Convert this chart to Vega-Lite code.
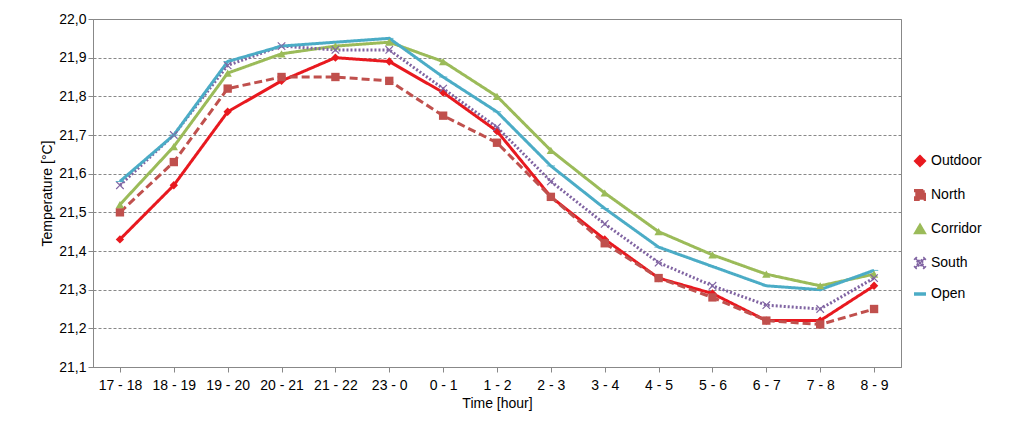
{
"$schema":"https://vega.github.io/schema/vega-lite/v6.json",
"width":808,"height":348,
"padding":{"left":40,"top":12,"right":5,"bottom":5},
"config":{"font":"Liberation Sans","view":{"stroke":"#888"},"axis":{"labelFontSize":14,"titleFontSize":14,"labelColor":"#000","titleColor":"#000","titleFontWeight":"normal"}},
"data":{"values":[
{"t":"17 - 18","s":"Outdoor","v":21.43},{"t":"18 - 19","s":"Outdoor","v":21.57},{"t":"19 - 20","s":"Outdoor","v":21.76},{"t":"20 - 21","s":"Outdoor","v":21.84},{"t":"21 - 22","s":"Outdoor","v":21.90},{"t":"23 - 0","s":"Outdoor","v":21.89},{"t":"0 - 1","s":"Outdoor","v":21.81},{"t":"1 - 2","s":"Outdoor","v":21.71},{"t":"2 - 3","s":"Outdoor","v":21.54},{"t":"3 - 4","s":"Outdoor","v":21.43},{"t":"4 - 5","s":"Outdoor","v":21.33},{"t":"5 - 6","s":"Outdoor","v":21.29},{"t":"6 - 7","s":"Outdoor","v":21.22},{"t":"7 - 8","s":"Outdoor","v":21.22},{"t":"8 - 9","s":"Outdoor","v":21.31},
{"t":"17 - 18","s":"North","v":21.50},{"t":"18 - 19","s":"North","v":21.63},{"t":"19 - 20","s":"North","v":21.82},{"t":"20 - 21","s":"North","v":21.85},{"t":"21 - 22","s":"North","v":21.85},{"t":"23 - 0","s":"North","v":21.84},{"t":"0 - 1","s":"North","v":21.75},{"t":"1 - 2","s":"North","v":21.68},{"t":"2 - 3","s":"North","v":21.54},{"t":"3 - 4","s":"North","v":21.42},{"t":"4 - 5","s":"North","v":21.33},{"t":"5 - 6","s":"North","v":21.28},{"t":"6 - 7","s":"North","v":21.22},{"t":"7 - 8","s":"North","v":21.21},{"t":"8 - 9","s":"North","v":21.25},
{"t":"17 - 18","s":"Corridor","v":21.52},{"t":"18 - 19","s":"Corridor","v":21.67},{"t":"19 - 20","s":"Corridor","v":21.86},{"t":"20 - 21","s":"Corridor","v":21.91},{"t":"21 - 22","s":"Corridor","v":21.93},{"t":"23 - 0","s":"Corridor","v":21.94},{"t":"0 - 1","s":"Corridor","v":21.89},{"t":"1 - 2","s":"Corridor","v":21.80},{"t":"2 - 3","s":"Corridor","v":21.66},{"t":"3 - 4","s":"Corridor","v":21.55},{"t":"4 - 5","s":"Corridor","v":21.45},{"t":"5 - 6","s":"Corridor","v":21.39},{"t":"6 - 7","s":"Corridor","v":21.34},{"t":"7 - 8","s":"Corridor","v":21.31},{"t":"8 - 9","s":"Corridor","v":21.34},
{"t":"17 - 18","s":"South","v":21.57},{"t":"18 - 19","s":"South","v":21.70},{"t":"19 - 20","s":"South","v":21.88},{"t":"20 - 21","s":"South","v":21.93},{"t":"21 - 22","s":"South","v":21.92},{"t":"23 - 0","s":"South","v":21.92},{"t":"0 - 1","s":"South","v":21.82},{"t":"1 - 2","s":"South","v":21.72},{"t":"2 - 3","s":"South","v":21.58},{"t":"3 - 4","s":"South","v":21.47},{"t":"4 - 5","s":"South","v":21.37},{"t":"5 - 6","s":"South","v":21.31},{"t":"6 - 7","s":"South","v":21.26},{"t":"7 - 8","s":"South","v":21.25},{"t":"8 - 9","s":"South","v":21.33},
{"t":"17 - 18","s":"Open","v":21.58},{"t":"18 - 19","s":"Open","v":21.70},{"t":"19 - 20","s":"Open","v":21.89},{"t":"20 - 21","s":"Open","v":21.93},{"t":"21 - 22","s":"Open","v":21.94},{"t":"23 - 0","s":"Open","v":21.95},{"t":"0 - 1","s":"Open","v":21.85},{"t":"1 - 2","s":"Open","v":21.76},{"t":"2 - 3","s":"Open","v":21.62},{"t":"3 - 4","s":"Open","v":21.51},{"t":"4 - 5","s":"Open","v":21.41},{"t":"5 - 6","s":"Open","v":21.36},{"t":"6 - 7","s":"Open","v":21.31},{"t":"7 - 8","s":"Open","v":21.30},{"t":"8 - 9","s":"Open","v":21.35}
]},
"encoding":{
"x":{"field":"t","type":"ordinal","sort":null,"title":"Time [hour]","axis":{"labelAngle":0,"ticks":true,"domain":true,"domainColor":"#888","tickColor":"#888","labelPadding":6}},
"y":{"field":"v","type":"quantitative","scale":{"domain":[21.1,22.0],"nice":false},"title":"Temperature [°C]","axis":{"values":[21.1,21.2,21.3,21.4,21.5,21.6,21.7,21.8,21.9,22.0],"format":".1f","labelExpr":"replace(datum.label,'.',',')","gridColor":"#888","gridDash":[3,2],"domainColor":"#888","tickColor":"#888"}},
"color":{"field":"s","type":"nominal","sort":null,"scale":{"domain":["Outdoor","North","Corridor","South","Open"],"range":["#e8191f","#c0504d","#9bbb59","#8064a2","#4bacc6"]},"title":null,"legend":{"orient":"none","legendX":815,"legendY":130,"labelFontSize":14,"symbolSize":90,"symbolStrokeWidth":2.5,"rowPadding":14,"labelColor":"#000","padding":5}}
},
"layer":[
{"mark":{"type":"line","strokeWidth":3},"encoding":{"strokeDash":{"field":"s","type":"nominal","sort":null,"scale":{"domain":["Outdoor","North","Corridor","South","Open"],"range":[[1,0],[8,4],[1,0],[2,2],[1,0]]},"legend":null}}},
{"mark":{"type":"point","filled":true,"size":70,"opacity":1},"encoding":{"shape":{"field":"s","type":"nominal","sort":null,"scale":{"domain":["Outdoor","North","Corridor","South","Open"],"range":["diamond","square","triangle-up","M-1,-0.8L-0.8,-1L0,-0.2L0.8,-1L1,-0.8L0.2,0L1,0.8L0.8,1L0,0.2L-0.8,1L-1,0.8L-0.2,0Z","M-1,-0.1L1,-0.1L1,0.1L-1,0.1Z"]},"title":null}}}
]
}
